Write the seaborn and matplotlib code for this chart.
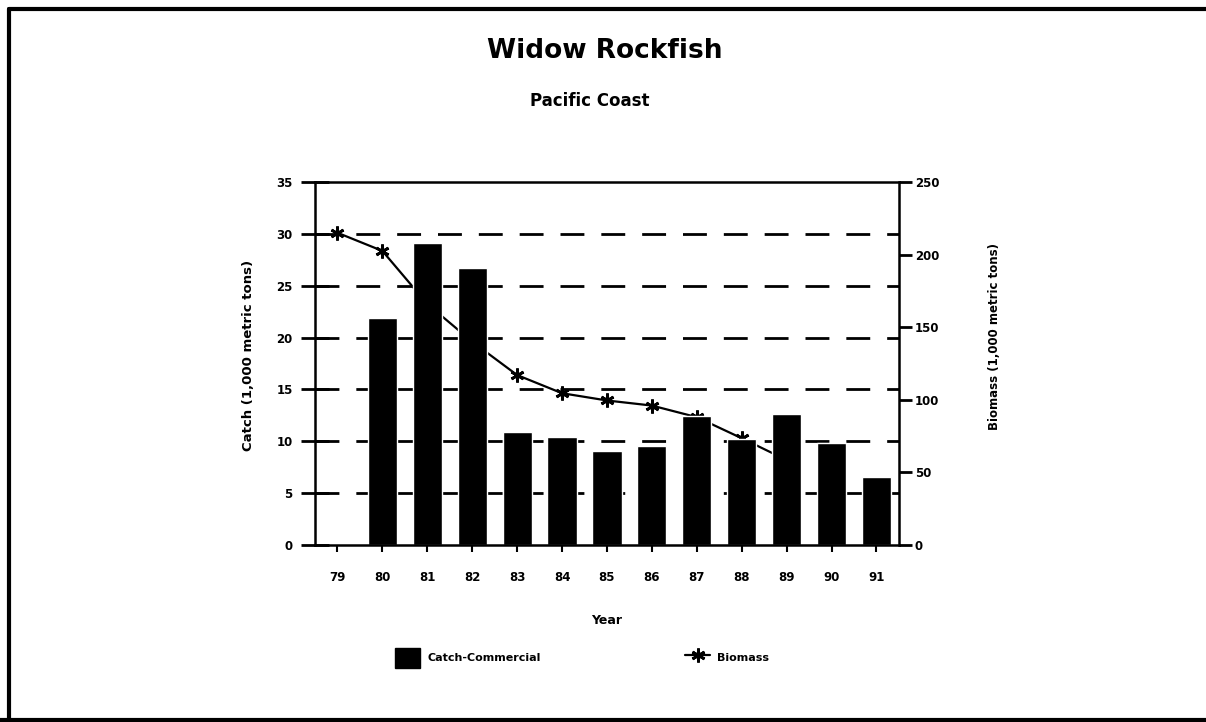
import numpy as np
import pandas as pd
import matplotlib.pyplot as plt
import seaborn as sns
from matplotlib.lines import Line2D
from matplotlib.patches import Patch

# Data (1,000 metric tons)
years = [79, 80, 81, 82, 83, 84, 85, 86, 87, 88, 89, 90, 91]
year_labels = ["79", "80", "81", "82", "83", "84", "85", "86", "87", "88", "89", "90", "91"]
catch_commercial = [np.nan, 21.9, 29.1, 26.7, 10.9, 10.4, 9.1, 9.5, 12.4, 10.2, 12.6, 9.8, 6.6]
biomass = [215, 202.5, 166, 140, 117, 104.5, 99.5, 96, 88, 73.5, 58.5, np.nan, np.nan]

df = pd.DataFrame({"year": years, "catch": catch_commercial, "biomass": biomass})

sns.set_theme(style="white")
plt.rcParams["font.family"] = ["DejaVu Sans"]
plt.rcParams["font.weight"] = "bold"
plt.rcParams["text.color"] = "black"
plt.rcParams["axes.labelcolor"] = "black"
plt.rcParams["xtick.color"] = "black"
plt.rcParams["ytick.color"] = "black"

fig = plt.figure(figsize=(12.06, 7.22), dpi=100)
ax = fig.add_axes([0.2612, 0.2452, 0.4842, 0.5028])
ax2 = ax.twinx()

# biomass line sits behind the bars
ax.set_zorder(2)
ax2.set_zorder(1)
ax.patch.set_visible(False)

sns.barplot(data=df.dropna(subset=["catch"]), x="year", y="catch", native_scale=True,
            width=0.65, color="black", saturation=1, errorbar=None, ax=ax)
sns.lineplot(data=df.dropna(subset=["biomass"]), x="year", y="biomass", ax=ax2,
             color="black", lw=1.6, marker=(6, 2, 0), markersize=10,
             markeredgewidth=2, markeredgecolor="black")

ax.set_ylim(0, 35)
ax2.set_ylim(0, 250)
ax.set_xlim(78.5, 91.5)
ax.set_xticks(years)
ax.set_xticklabels(year_labels, fontsize=8.5, fontweight="bold", color="black")
ax.set_yticks(np.arange(0, 36, 5))
ax.set_yticklabels([str(v) for v in range(0, 36, 5)], fontsize=8.5, fontweight="bold", color="black")
ax2.set_yticks(np.arange(0, 251, 50))
ax2.set_yticklabels([str(v) for v in range(0, 251, 50)], fontsize=8.5, fontweight="bold", color="black")
ax.set_xlabel("")
ax.set_ylabel("")
ax2.set_ylabel("")

# dashed horizontal grid at the catch ticks
for v in range(5, 35, 5):
    ax.axhline(v, color="black", lw=2, dashes=(8.6, 6.1), zorder=0.5)

for sp in ax.spines.values():
    sp.set_color("black")
    sp.set_linewidth(1.8)
for sp in ax2.spines.values():
    sp.set_visible(False)

ax.tick_params(axis="y", direction="inout", length=20, width=2, pad=6, colors="black", left=True)
ax.tick_params(axis="x", direction="out", length=5, width=1.5, pad=14, colors="black", bottom=True)
ax2.tick_params(axis="y", direction="out", length=9.5, width=2, pad=2, colors="black", right=True)

# texts
fig.text(605 / 1206, 1 - 51 / 722, "Widow Rockfish", ha="center", va="center",
         fontsize=19, fontweight="bold", color="black")
fig.text(590 / 1206, 1 - 101 / 722, "Pacific Coast", ha="center", va="center",
         fontsize=12, fontweight="bold", color="black")
fig.text(248 / 1206, 1 - 355 / 722, "Catch (1,000 metric tons)", rotation=90,
         ha="center", va="center", fontsize=9.5, fontweight="bold", color="black")
fig.text(995 / 1206, 1 - 337 / 722, "Biomass (1,000 metric tons)", rotation=90,
         ha="center", va="center", fontsize=8.5, fontweight="bold", color="black")
fig.text(607 / 1206, 1 - 620 / 722, "Year", ha="center", va="center",
         fontsize=9, fontweight="bold", color="black")

# legend
handles = [Patch(facecolor="black", edgecolor="black", label="Catch-Commercial"),
           Line2D([], [], color="black", lw=1.6, marker=(6, 2, 0), markersize=10,
                  markeredgewidth=2, label="Biomass")]
leg = fig.legend(handles=handles, loc="center", bbox_to_anchor=(582 / 1206, 1 - 658 / 722),
                 ncol=2, frameon=False, handlelength=2.3, handleheight=2.3,
                 columnspacing=13, handletextpad=0.6, prop={"size": 8, "weight": "bold"})
for t in leg.get_texts():
    t.set_color("black")

# page frame
fig.add_artist(Line2D([9 / 1206, 9 / 1206], [0.0, 1 - 9 / 722], color="black", lw=3,
                      transform=fig.transFigure))
fig.add_artist(Line2D([9 / 1206, 1.0], [1 - 9 / 722, 1 - 9 / 722], color="black", lw=3,
                      transform=fig.transFigure))
fig.add_artist(Line2D([0.0, 1.0], [2 / 722, 2 / 722], color="black", lw=3,
                      transform=fig.transFigure))

fig.savefig("out.png", dpi=100, facecolor="white")
